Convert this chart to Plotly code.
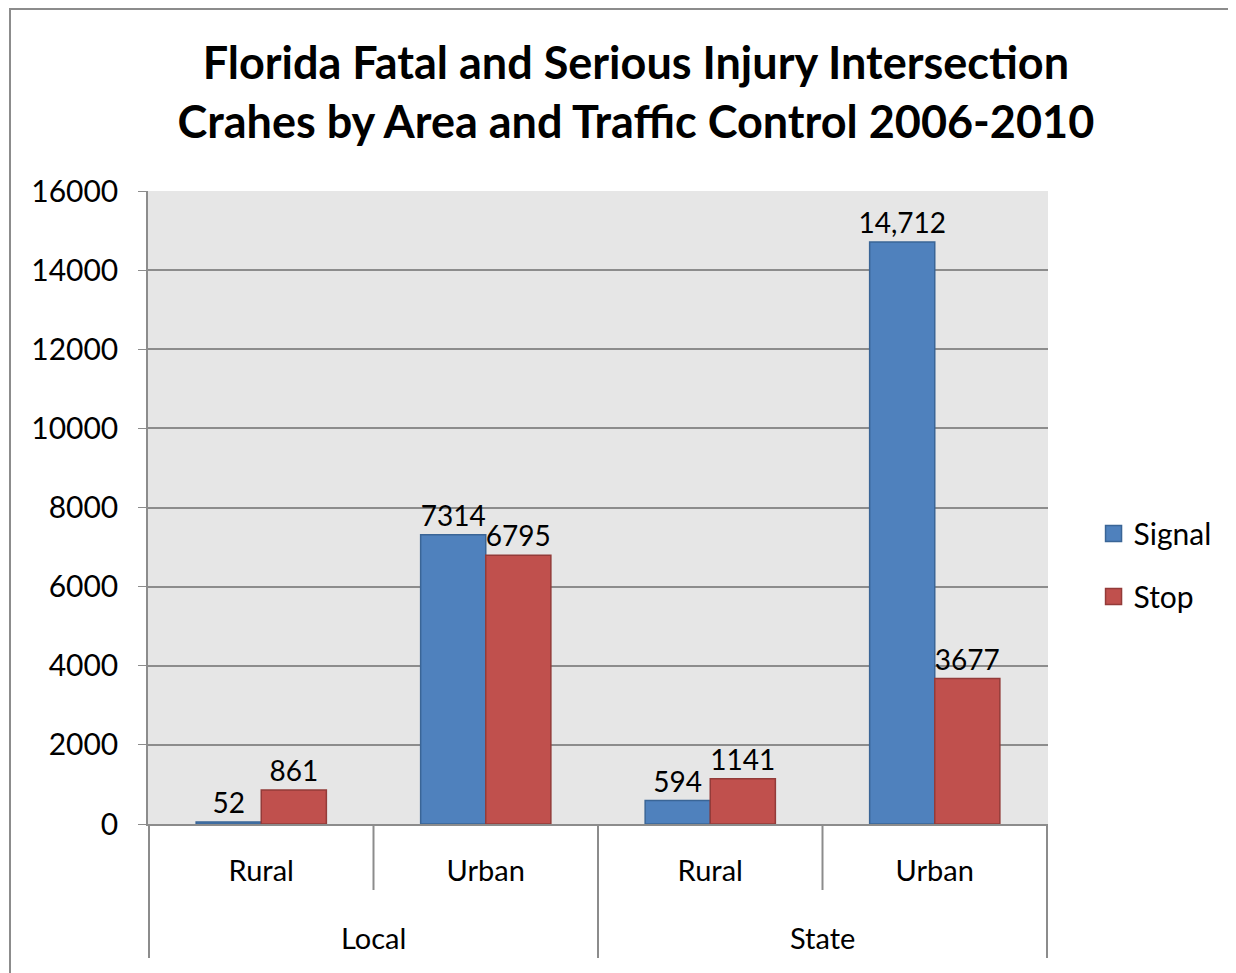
import plotly.graph_objects as go

# data
roads = ["Local", "Local", "State", "State"]
areas = ["Rural", "Urban", "Rural", "Urban"]
signal = [52, 7314, 594, 14712]
stop = [861, 6795, 1141, 3677]
signal_labels = ["52", "7314", "594", "14,712"]
stop_labels = ["861", "6795", "1141", "3677"]
y_ticks = [0, 2000, 4000, 6000, 8000, 10000, 12000, 14000, 16000]

W, H = 1236, 973
# the page body has an 8px margin, so margins are shifted to compensate
ML, MR, MT, MB = 140, 196, 183, 157
FONT = "Lato"
BLUE, RED = "#4f81bd", "#c0504d"
GRID = "#8c8c8c"

keys = [f"{r} {a}" for r, a in zip(roads, areas)]
pw, ph = W - ML - MR, H - MT - MB

fig = go.Figure()
for name, vals, labels, col, edge in [("Signal", signal, signal_labels, BLUE, "#3a6596"),
                                      ("Stop", stop, stop_labels, RED, "#933b39")]:
    fig.add_trace(go.Bar(
        name=name, x=keys, y=vals, showlegend=False,
        text=labels, textposition="outside", cliponaxis=False,
        constraintext="none",
        marker=dict(color=col, line=dict(color=edge, width=1.5)),
        textfont=dict(size=28, color="black"),
    ))
    # legend entry with a larger square swatch
    fig.add_trace(go.Scatter(
        name=name, x=[None], y=[None], mode="markers", legendgroup=name,
        marker=dict(symbol="square", size=20, color=col,
                    line=dict(color=edge, width=1.5)),
    ))

# two-level category axis: short lines between areas, long ones between roads
short_len, long_len = 66 / ph, 134 / ph
for i in range(len(keys) + 1):
    edge = i == 0 or i == len(keys) or roads[i] != roads[i - 1]
    fig.add_shape(type="line", xref="x", yref="paper",
                  x0=i - 0.5, x1=i - 0.5, y0=0,
                  y1=-(long_len if edge else short_len),
                  line=dict(color=GRID, width=2))
groups = list(dict.fromkeys(roads))
for g in groups:
    idx = [i for i, r in enumerate(roads) if r == g]
    fig.add_annotation(x=(idx[0] + idx[-1]) / 2, xref="x",
                       y=-(937 - 8 - (H - MB)) / ph, yref="paper",
                       text=g, showarrow=False, yanchor="middle",
                       font=dict(size=29, color="black"))

# outer chart border
fig.add_shape(type="rect", xref="paper", yref="paper", layer="below",
              x0=(2 - ML) / pw, x1=(W + 5 - ML) / pw,
              y0=-(MB + 10) / ph, y1=(ph + MT - 1) / ph,
              line=dict(color=GRID, width=2))

fig.update_layout(
    width=W, height=H,
    margin=dict(l=ML, r=MR, t=MT, b=MB),
    paper_bgcolor="white", plot_bgcolor="#e6e6e6",
    font=dict(family=FONT, size=28, color="black"),
    title=dict(text="<b>Florida Fatal and Serious Injury Intersection<br>Crahes by Area and Traffic Control 2006-2010</b>",
               x=0.508, xanchor="center", y=1 - 71 / H, yanchor="middle",
               font=dict(family=FONT, size=45, color="black")),
    barmode="group", bargap=0.42, bargroupgap=0,
    showlegend=True,
    legend=dict(x=1.0506, y=0.409, xanchor="left", yanchor="middle",
                font=dict(size=30), itemwidth=30, tracegroupgap=21,
                traceorder="grouped", bgcolor="rgba(0,0,0,0)"),
)
fig.update_yaxes(range=[0, 16000], tickvals=y_ticks, tickformat="d",
                 showgrid=True, gridcolor=GRID, gridwidth=1.5,
                 showline=True, linecolor=GRID, linewidth=1.5,
                 ticks="outside", ticklen=8, tickcolor=GRID,
                 zeroline=False, ticklabelstandoff=14,
                 tickfont=dict(size=30))
fig.update_xaxes(type="category", tickvals=keys, ticktext=areas,
                 showline=True, linecolor=GRID, linewidth=2, ticks="",
                 ticklabelstandoff=20, tickfont=dict(size=29))

fig.write_html("out.html")
